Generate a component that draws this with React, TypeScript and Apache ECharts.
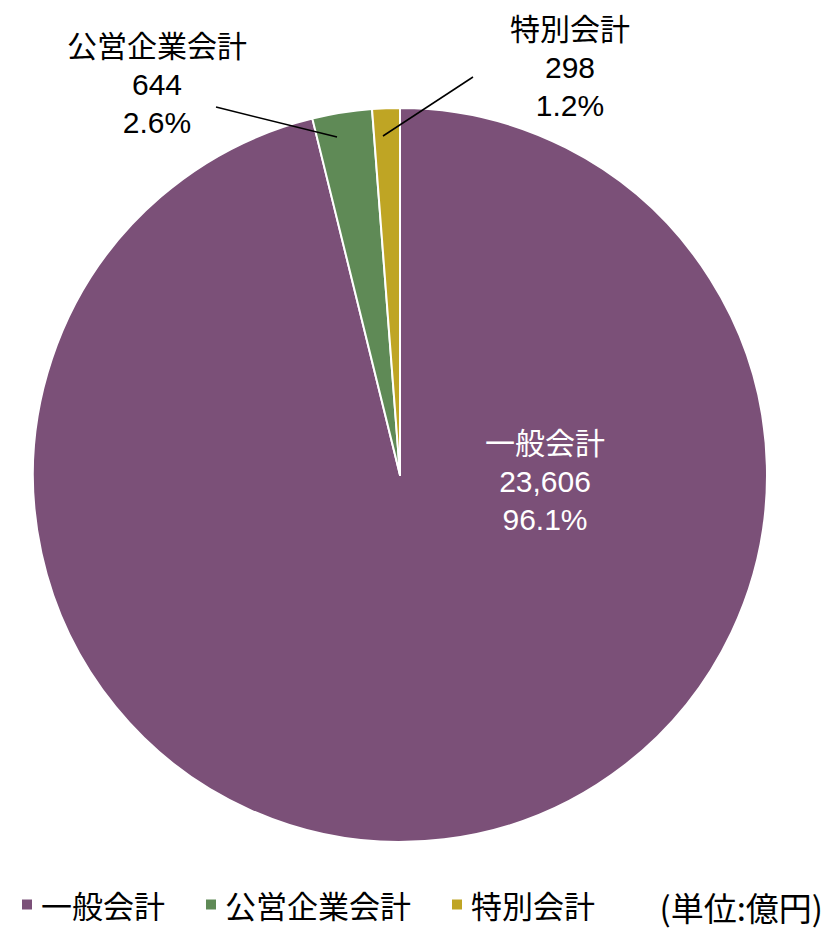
import React, { useEffect, useRef } from "react";
import * as echarts from "echarts";

const categories = ["一般会計", "公営企業会計", "特別会計"];
const values = [23606, 644, 298];
const percents = ["96.1%", "2.6%", "1.2%"];
const colors = ["#7B5078", "#5F8A56", "#BFA524"];
const unitText = "(単位:億円)";

const FONT = "'Liberation Sans', 'Noto Sans CJK JP', sans-serif";
const CJK = "'Noto Sans CJK JP', sans-serif";

export default function App() {
  const ref = useRef<HTMLDivElement>(null);
  useEffect(() => {
    if (!ref.current) return;
    const chart = echarts.init(ref.current, null, { renderer: "svg" });
    const labelPos = [
      { x: 545, y: 481 },
      { x: 157, y: 84 },
      { x: 570, y: 67 },
    ];
    const leaderLines = [
      [337, 137, 216, 107],
      [383, 136, 473, 77],
    ];
    const data = categories.map((name, i) => ({
      name,
      value: values[i],
      itemStyle: { color: colors[i] },
      label: {
        show: true,
        position: "inside",
        color: i === 0 ? "#ffffff" : "#000000",
        formatter: () => `${name}\n${values[i].toLocaleString("en-US")}\n${percents[i]}`,
      },
      labelLine: { show: false },
    }));
    chart.setOption({
      animation: false,
      backgroundColor: "#ffffff",
      legend: {
        data: categories,
        left: 15,
        top: 884,
        orient: "horizontal",
        itemWidth: 12,
        itemHeight: 12,
        itemGap: 39,
        icon: "rect",
        textStyle: {
          fontFamily: CJK,
          fontSize: 31,
          color: "#000000",
          padding: [0, 0, 0, 3],
        },
      },
      graphic: [
        ...leaderLines.map((l) => ({
          type: "line",
          z: 100,
          shape: { x1: l[0], y1: l[1], x2: l[2], y2: l[3] },
          style: { stroke: "#000000", lineWidth: 1.5 },
        })),
        {
          type: "text",
          right: 4,
          top: 890,
          z: 100,
          style: {
            text: unitText,
            fontFamily: CJK,
            fontSize: 33,
            fill: "#000000",
          },
        },
      ],
      series: [
        {
          type: "pie",
          center: [400, 475],
          radius: [0, 367],
          startAngle: 90,
          clockwise: true,
          avoidLabelOverlap: false,
          itemStyle: { borderColor: "#ffffff", borderWidth: 2 },
          label: {
            fontFamily: FONT,
            fontSize: 30,
            lineHeight: 38,
            align: "center",
          },
          labelLayout: (params: any) => {
            const p = labelPos[params.dataIndex];
            return { x: p.x, y: p.y, align: "center", verticalAlign: "middle" };
          },
          data,
        },
      ],
    });
    return () => chart.dispose();
  }, []);
  return (
    <div
      ref={ref}
      style={{ position: "absolute", left: 0, top: 0, width: 827, height: 929 }}
    />
  );
}
